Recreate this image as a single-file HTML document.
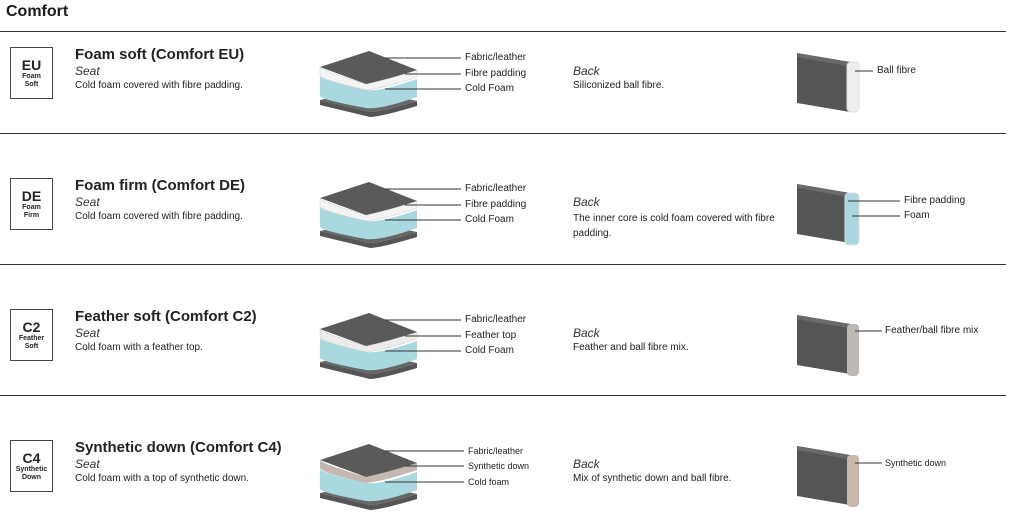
<!DOCTYPE html>
<html><head><style>
body{margin:0;width:1010px;height:525px;background:#fff;font-family:"Liberation Sans",sans-serif;color:#222;position:relative;overflow:hidden}
.a{position:absolute;white-space:nowrap}
.h{font-size:16px;font-weight:bold;color:#1a1a1a}
.t{font-size:15px;font-weight:bold}
.i{font-size:12px;font-style:italic;color:#333}
.s{font-size:10px;color:#222}
.l{font-size:10px;color:#222}
.box{position:absolute;left:10px;width:43px;height:52px;border:1px solid #444;text-align:center;box-sizing:border-box}
.box b{display:block;font-size:14px;margin-top:9px}
.box span{display:block;font-size:7px;font-weight:bold;line-height:8px}
.hr{position:absolute;left:0;width:1006px;height:1px;background:#333}
svg{position:absolute;left:0;top:0}
</style></head><body>
<div class="a h" style="left:6px;top:3px">Comfort</div>
<div class="hr" style="top:31px"></div>
<div class="hr" style="top:133px"></div>
<div class="hr" style="top:264px"></div>
<div class="hr" style="top:395px"></div>

<svg width="1010" height="525">
<defs>
<g id="base">
<path d="M320,100 L370,112 Q380,112 417,101 L417,106 Q380,117 370,117 L320,105 Z" fill="#555"/>
<path d="M320,100 L366,90 L417,101 Q380,112 370,112 Z" fill="#666"/>
<path d="M320,76 Q322,80 366,90 Q380,92 417,79 L417,97 Q380,110 366,108 Q322,100 320,96 Z" fill="#a9d8e0"/>
</g>
<g id="top">
<path d="M320,67 L369,51 L417,70 Q385,80 366,84 Z" fill="#5a5a5a"/>
</g>
<g id="back">
<path d="M797,53 L850,62 L850,112 L797,103 Z" fill="#555"/>
<path d="M797,53 L850,62 L848,66 L797,57 Z" fill="#6a6a6a"/>
</g>
</defs>
<use href="#base"/><use href="#base" y="131"/><use href="#base" y="262"/><use href="#base" y="393"/>
<!-- middle layers -->
<path d="M320,67 Q322,71 366,84 Q385,80 417,70 L417,77 Q385,88 366,90 Q322,80 320,75 Z" fill="#f4f4f4" stroke="#ccc" stroke-width="0.5"/>
<path d="M320,198 Q322,202 366,215 Q385,211 417,201 L417,208 Q385,219 366,221 Q322,211 320,206 Z" fill="#f4f4f4" stroke="#ccc" stroke-width="0.5"/>
<path d="M320,329 Q322,333 366,346 Q385,342 417,332 L417,339 Q385,350 366,352 Q322,342 320,337 Z" fill="#ececec" stroke="#ccc" stroke-width="0.5"/>
<path d="M320,460 Q322,464 366,477 Q385,473 417,463 L417,470 Q385,481 366,483 Q322,473 320,468 Z" fill="#c4b8b0"/>
<use href="#top"/><use href="#top" y="131"/><use href="#top" y="262"/><use href="#top" y="393"/>
<g stroke="#333" stroke-width="1">
<line x1="385" y1="58" x2="461" y2="58"/><line x1="405" y1="74" x2="461" y2="74"/><line x1="385" y1="89" x2="461" y2="89"/>
<line x1="385" y1="189" x2="461" y2="189"/><line x1="405" y1="205" x2="461" y2="205"/><line x1="385" y1="220" x2="461" y2="220"/>
<line x1="385" y1="320" x2="461" y2="320"/><line x1="405" y1="336" x2="461" y2="336"/><line x1="385" y1="351" x2="461" y2="351"/>
<line x1="385" y1="451" x2="464" y2="451"/><line x1="405" y1="466" x2="464" y2="466"/><line x1="385" y1="482" x2="464" y2="482"/>
</g>
<use href="#back"/><use href="#back" y="131"/><use href="#back" y="262"/><use href="#back" y="393"/>
<rect x="847" y="62" width="12" height="50" rx="4" fill="#eee" stroke="#ddd"/>
<rect x="845" y="193" width="14" height="52" rx="4" fill="#a9d8e0" stroke="#ddd"/>
<rect x="847" y="324" width="12" height="52" rx="4" fill="#bdb8b4"/>
<rect x="847" y="455" width="12" height="52" rx="4" fill="#c8b8a8"/>
<g stroke="#333"><line x1="855" y1="71" x2="873" y2="71"/><line x1="848" y1="201" x2="900" y2="201"/><line x1="852" y1="216" x2="900" y2="216"/><line x1="855" y1="331" x2="882" y2="331"/><line x1="855" y1="463" x2="882" y2="463"/></g>
</svg>

<div class="box" style="top:47px"><b>EU</b><span>Foam<br>Soft</span></div>
<div class="box" style="top:178px"><b>DE</b><span>Foam<br>Firm</span></div>
<div class="box" style="top:309px"><b>C2</b><span>Feather<br>Soft</span></div>
<div class="box" style="top:440px"><b>C4</b><span>Synthetic<br>Down</span></div>

<div class="a t" style="left:75px;top:46px">Foam soft (Comfort EU)</div>
<div class="a i" style="left:75px;top:64px">Seat</div>
<div class="a s" style="left:75px;top:80px">Cold foam covered with fibre padding.</div>
<div class="a t" style="left:75px;top:177px">Foam firm (Comfort DE)</div>
<div class="a i" style="left:75px;top:195px">Seat</div>
<div class="a s" style="left:75px;top:211px">Cold foam covered with fibre padding.</div>
<div class="a t" style="left:75px;top:308px">Feather soft (Comfort C2)</div>
<div class="a i" style="left:75px;top:326px">Seat</div>
<div class="a s" style="left:75px;top:342px">Cold foam with a feather top.</div>
<div class="a t" style="left:75px;top:439px">Synthetic down (Comfort C4)</div>
<div class="a i" style="left:75px;top:457px">Seat</div>
<div class="a s" style="left:75px;top:473px">Cold foam with a top of synthetic down.</div>

<div class="a l" style="left:465px;top:52px">Fabric/leather</div>
<div class="a l" style="left:465px;top:68px">Fibre padding</div>
<div class="a l" style="left:465px;top:83px">Cold Foam</div>
<div class="a l" style="left:465px;top:183px">Fabric/leather</div>
<div class="a l" style="left:465px;top:199px">Fibre padding</div>
<div class="a l" style="left:465px;top:214px">Cold Foam</div>
<div class="a l" style="left:465px;top:314px">Fabric/leather</div>
<div class="a l" style="left:465px;top:330px">Feather top</div>
<div class="a l" style="left:465px;top:345px">Cold Foam</div>
<div class="a l" style="left:468px;top:446px;font-size:9px">Fabric/leather</div>
<div class="a l" style="left:468px;top:461px;font-size:9px">Synthetic down</div>
<div class="a l" style="left:468px;top:477px;font-size:9px">Cold foam</div>

<div class="a i" style="left:573px;top:64px">Back</div>
<div class="a s" style="left:573px;top:80px">Siliconized ball fibre.</div>
<div class="a i" style="left:573px;top:195px">Back</div>
<div class="a s" style="left:573px;top:211px;line-height:15px">The inner core is cold foam covered with fibre<br>padding.</div>
<div class="a i" style="left:573px;top:326px">Back</div>
<div class="a s" style="left:573px;top:342px">Feather and ball fibre mix.</div>
<div class="a i" style="left:573px;top:457px">Back</div>
<div class="a s" style="left:573px;top:473px">Mix of synthetic down and ball fibre.</div>

<div class="a l" style="left:877px;top:65px">Ball fibre</div>
<div class="a l" style="left:904px;top:195px">Fibre padding</div>
<div class="a l" style="left:904px;top:210px">Foam</div>
<div class="a l" style="left:885px;top:325px">Feather/ball fibre mix</div>
<div class="a l" style="left:885px;top:458px;font-size:9px">Synthetic down</div>
</body></html>
